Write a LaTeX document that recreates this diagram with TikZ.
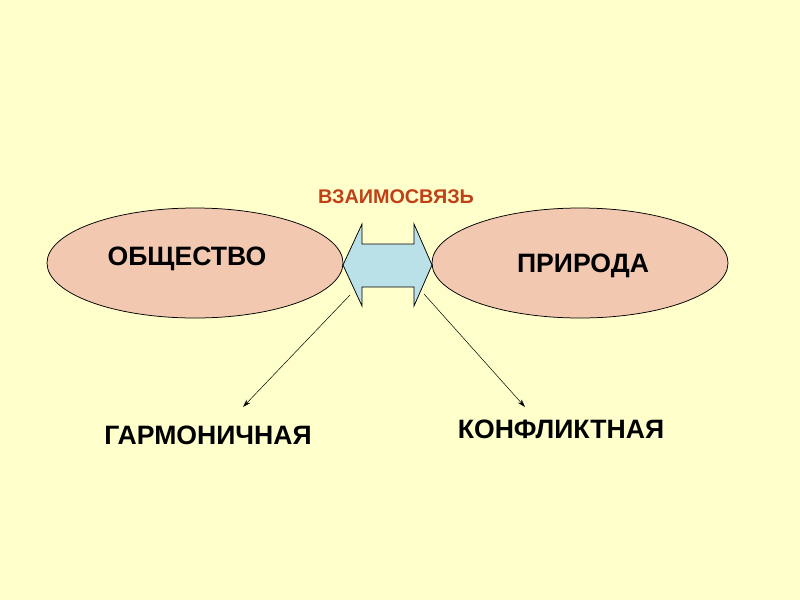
\documentclass[tikz,border=0pt]{standalone}
\usepackage{fontspec}
\setmainfont{Liberation Sans}
\usetikzlibrary{arrows.meta}
\usetikzlibrary{shapes.geometric}
\definecolor{bgyellow}{RGB}{255,255,204}
\definecolor{oval}{RGB}{242,200,176}
\definecolor{linkblue}{RGB}{186,224,232}
\definecolor{linkred}{RGB}{192,64,24}
\tikzset{
  sphere/.style={ellipse,draw=black,fill=oval,line width=0.75,minimum width=296,minimum height=110,inner sep=0},
  bigtext/.style={font=\fontsize{26.6}{30}\selectfont\bfseries,inner sep=0.75pt},
  branch/.style={draw=black,line width=0.5,-{Stealth[length=8,width=5]}}
}
\begin{document}
\begin{tikzpicture}[x=1pt,y=1pt,yscale=-1,xscale=1]
\useasboundingbox[fill=bgyellow] (0,0) rectangle (800,600);

%Shape: Ellipse [society]
\node [sphere] (society) at (195,263) {};
%Shape: Ellipse [nature]
\node [sphere] (nature) at (580,263) {};

%Shape: Double Arrow [link]
\draw [fill=linkblue,line width=0.75] (343,265) -- (362,224) -- (362,244) -- (414,244) -- (414,224) -- (432,265) -- (414,306) -- (414,287) -- (362,287) -- (362,306) -- cycle ;

% Text Node
\node [font=\fontsize{19.8}{23}\selectfont\bfseries,text=linkred,inner sep=0.75pt] (link) at (396,197) {ВЗАИМОСВЯЗЬ};
% Text Node
\node [bigtext] (soctext) at (187,259) {ОБЩЕСТВО};
% Text Node
\node [bigtext] (nattext) at (583,266) {ПРИРОДА};
% Text Node
\node [bigtext] (harmony) at (208,435) {ГАРМОНИЧНАЯ};
% Text Node
\node [bigtext] (conflict) at (561,429) {КОНФЛИКТНАЯ};

%Straight Lines [branches]
\coordinate (hstart) at (350,295);
\coordinate (hend) at (243,407);
\coordinate (cstart) at (424,294);
\coordinate (cend) at (525,407);
\draw [branch] (hstart) -- (hend);
\draw [branch] (cstart) -- (cend);

\end{tikzpicture}
\end{document}
